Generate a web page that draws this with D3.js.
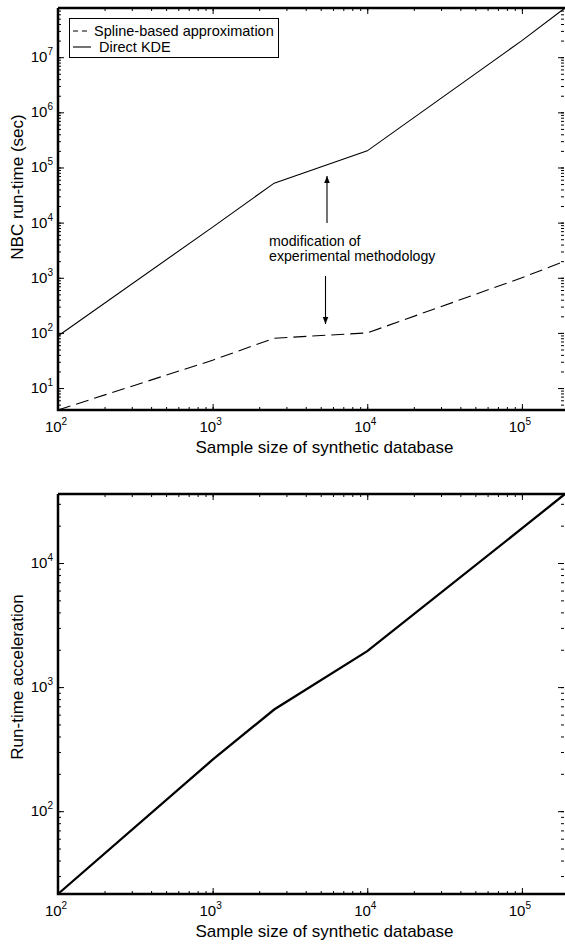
<!doctype html>
<html lang="en">
<head>
  <meta charset="utf-8">
  <script src="https://cdnjs.cloudflare.com/ajax/libs/d3/7.8.5/d3.min.js"></script>
  <style>
    html, body{margin:0px; padding:0px; background:#fff;}
    svg{display:block; font-family:"Liberation Sans", Arial, sans-serif;}
    .tick line{stroke:#000;}
    .domain{display:none;}
  </style>
</head>
<body>
<div id="view"></div>
<script>
// sample sizes of the synthetic database
var sampleSizes = [100, 1000, 2500, 10000, 100000, 190000];
// run-times in seconds
var splineTime = [4, 32, 80, 100, 1000, 2000];
var directTime = [88, 8300, 52000, 200000, 20000000, 78000000];
// run-time acceleration (direct / spline)
var acceleration = [21.5, 260, 660, 1950, 19000, 36000];

var xTicks = [1e2, 1e3, 1e4, 1e5];
var topYTicks = [1e1, 1e2, 1e3, 1e4, 1e5, 1e6, 1e7];
var bottomYTicks = [1e2, 1e3, 1e4];
var legendLabels = ["Spline-based approximation", "Direct KDE"];
var noteLines = ["modification of", "experimental methodology"];

var W = 565, H = 946;
var svg = d3.select("#view").append("svg").attr("width", W).attr("height", H);

var left = 58, right = 565;
var x = d3.scaleLog().domain([100, 190000]).range([left, right]);

// minor ticks 2..9 in every decade of a domain
function minorTicks(domain){
  var out = [];
  var lo = Math.floor(Math.log10(domain[0])), hi = Math.ceil(Math.log10(domain[1]));
  for (var e = lo; e <= hi; e++){
    for (var m = 1; m <= 9; m++){
      var v = m * Math.pow(10, e);
      if (v >= domain[0] && v <= domain[1]) out.push(v);
    }
  }
  return out;
}

function drawPanel(g, y, yTicks, top, bottom){
  var xMinor = minorTicks(x.domain()), yMinor = minorTicks(y.domain());
  // inward ticks: minor short, decades longer
  g.append("g").attr("transform", "translate(0," + bottom + ")")
    .call(d3.axisTop(x).tickValues(xMinor).tickSize(3).tickFormat(""));
  g.append("g").attr("transform", "translate(0," + bottom + ")")
    .call(d3.axisTop(x).tickValues(xTicks).tickSize(6).tickFormat(""));
  g.append("g").attr("transform", "translate(0," + top + ")")
    .call(d3.axisBottom(x).tickValues(xMinor).tickSize(3).tickFormat(""));
  g.append("g").attr("transform", "translate(0," + top + ")")
    .call(d3.axisBottom(x).tickValues(xTicks).tickSize(6).tickFormat(""));
  g.append("g").attr("transform", "translate(" + left + ",0)")
    .call(d3.axisRight(y).tickValues(yMinor).tickSize(3).tickFormat(""));
  g.append("g").attr("transform", "translate(" + left + ",0)")
    .call(d3.axisRight(y).tickValues(yTicks).tickSize(6).tickFormat(""));
  g.append("g").attr("transform", "translate(" + (right - 1) + ",0)")
    .call(d3.axisLeft(y).tickValues(yMinor).tickSize(3).tickFormat(""));
  g.append("g").attr("transform", "translate(" + (right - 1) + ",0)")
    .call(d3.axisLeft(y).tickValues(yTicks).tickSize(6).tickFormat(""));

  // frame (right edge falls off the page)
  g.append("path")
    .attr("d", "M" + left + "," + top + "H" + (right + 2) + "M" + left + "," + top + "V" + bottom + "H" + (right + 2))
    .attr("fill", "none").attr("stroke", "#000").attr("stroke-width", 2.5);

  // x tick labels 10^n
  var xl = g.selectAll(".xl").data(xTicks).enter().append("text")
    .attr("x", function(d){ return x(d) - 2; }).attr("y", bottom + 22)
    .attr("text-anchor", "middle").attr("font-size", 15);
  xl.append("tspan").text("10");
  xl.append("tspan").attr("dy", -7).attr("font-size", 10)
    .text(function(d){ return Math.round(Math.log10(d)); });

  var yl = g.selectAll(".yl").data(yTicks).enter().append("text")
    .attr("x", 47).attr("y", function(d){ return y(d) + 5; })
    .attr("text-anchor", "end").attr("font-size", 15);
  yl.append("tspan").text("10");
  yl.append("tspan").attr("dy", -7).attr("font-size", 10)
    .text(function(d){ return Math.round(Math.log10(d)); });
  // superscript sticks out to the right of the base
  yl.attr("transform", "translate(6,0)");

  g.append("text").attr("x", (left + right) / 2 + 13).attr("y", bottom + 43)
    .attr("text-anchor", "middle").attr("font-size", 17)
    .text("Sample size of synthetic database");
}

var pts = sampleSizes.map(function(s, i){ return i; });

/* top panel: run-times */
var yTop = d3.scaleLog().domain([4, 7.8e7]).range([410, 8]);
var gTop = svg.append("g");
drawPanel(gTop, yTop, topYTicks, 8, 410);

gTop.append("path").datum(pts)
  .attr("d", d3.line().x(function(i){ return x(sampleSizes[i]); }).y(function(i){ return yTop(splineTime[i]); }))
  .attr("fill", "none").attr("stroke", "#000").attr("stroke-width", 1.1)
  .attr("stroke-dasharray", "13,6");
gTop.append("path").datum(pts)
  .attr("d", d3.line().x(function(i){ return x(sampleSizes[i]); }).y(function(i){ return yTop(directTime[i]); }))
  .attr("fill", "none").attr("stroke", "#000").attr("stroke-width", 1.1);

gTop.append("text").attr("transform", "translate(23,187) rotate(-90)")
  .attr("text-anchor", "middle").attr("font-size", 17).text("NBC run-time (sec)");

// legend
var lg = gTop.append("g");
lg.append("rect").attr("x", 69.5).attr("y", 18.5).attr("width", 209).attr("height", 39)
  .attr("fill", "#fff").attr("stroke", "#000").attr("stroke-width", 1);
lg.selectAll("line").data(legendLabels).enter().append("line")
  .attr("x1", 73).attr("x2", 91)
  .attr("y1", function(d, i){ return 31 + i * 16; }).attr("y2", function(d, i){ return 31 + i * 16; })
  .attr("stroke", "#000").attr("stroke-width", 1.1)
  .attr("stroke-dasharray", function(d, i){ return i === 0 ? "5,4" : null; });
lg.selectAll("text").data(legendLabels).enter().append("text")
  .attr("x", function(d, i){ return i === 0 ? 94 : 99; })
  .attr("y", function(d, i){ return 36 + i * 16; })
  .attr("font-size", 14.5).text(function(d){ return d; });

// annotation with arrows
var marker = svg.append("defs").append("marker").attr("id", "arr")
  .attr("viewBox", "0 0 10 10").attr("refX", 10).attr("refY", 5)
  .attr("markerWidth", 7).attr("markerHeight", 7).attr("markerUnits", "userSpaceOnUse")
  .attr("orient", "auto");
marker.append("path").attr("d", "M0,1L10,5L0,9Z").attr("fill", "#000");

gTop.append("line").attr("x1", 327).attr("x2", 327).attr("y1", 223).attr("y2", 176)
  .attr("stroke", "#000").attr("stroke-width", 1.1).attr("marker-end", "url(#arr)");
gTop.append("line").attr("x1", 325.5).attr("x2", 325.5).attr("y1", 276).attr("y2", 324)
  .attr("stroke", "#000").attr("stroke-width", 1.1).attr("marker-end", "url(#arr)");
gTop.selectAll(".note").data(noteLines).enter().append("text")
  .attr("x", 269).attr("y", function(d, i){ return 246 + i * 15; })
  .attr("font-size", 14.2).text(function(d){ return d; });

/* bottom panel: acceleration */
var yBot = d3.scaleLog().domain([21.5, 36000]).range([894, 494]);
var gBot = svg.append("g");
drawPanel(gBot, yBot, bottomYTicks, 494, 894);

gBot.append("path").datum(pts)
  .attr("d", d3.line().x(function(i){ return x(sampleSizes[i]); }).y(function(i){ return yBot(acceleration[i]); }))
  .attr("fill", "none").attr("stroke", "#000").attr("stroke-width", 2.3);

gBot.append("text").attr("transform", "translate(23,677) rotate(-90)")
  .attr("text-anchor", "middle").attr("font-size", 17).text("Run-time acceleration");
</script>
</body>
</html>
